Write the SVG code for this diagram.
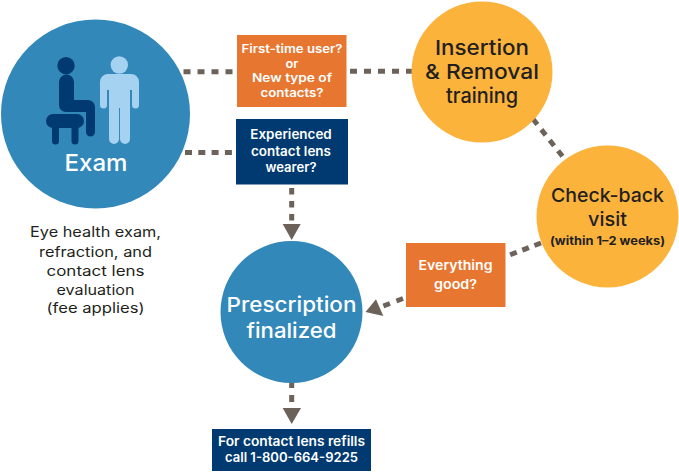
<svg xmlns="http://www.w3.org/2000/svg" width="679" height="472" viewBox="0 0 679 472">
<style>
text{font-family:"Inter","Liberation Sans",sans-serif;text-anchor:middle}
.box{font-size:13px;font-weight:600;fill:#fff}
.tight{font-size:11.800px}
.big{font-size:20.500px;font-weight:500;fill:#231f20}
.blue{font-size:20.500px;font-weight:500;fill:#fff}
.note{font-size:14px;fill:#231f20}
.dash{fill:none;stroke:#6d6259;stroke-width:5;stroke-dasharray:7 7}
.head{fill:#6d6259}
</style>
<rect width="679" height="472" fill="#fff"/>
<g id="connectors">
<path class="dash" d="M183.500 71.700H234"/>
<path class="dash" d="M350 71.300H412"/>
<path class="dash" d="M185 152.500H234" style="stroke-dasharray:7 6.300"/>
<path class="dash" d="M291.700 188V222" style="stroke-dasharray:6.500 6.500"/>
<path class="head" d="M282.700 224H300.700L291.700 240Z"/>
<path class="dash" d="M533 119L563 157" style="stroke-dasharray:7 6.500"/>
<path class="dash" d="M541 243L507 256" style="stroke-dasharray:7 6"/>
<path class="dash" d="M403 298.500L382 306.500"/>
<path class="head" d="M365.500 312L376 299.300 383.300 316Z"/>
<path class="dash" d="M291.700 381V403"/>
<path class="head" d="M282.700 408H301L291.700 424Z"/>
</g>
<g id="exam">
<circle cx="95.500" cy="114" r="94.500" fill="#3288b9"/>
<g fill="#003a70">
<circle cx="66" cy="65.700" r="8.700"/>
<path d="M59 82a7.500 7.500 0 0 1 15 0V100H88a7 7 0 0 1 7 7V132a4.500 4.500 0 0 1-9 0V112H66a7 7 0 0 1-7-7Z"/>
<rect x="46" y="114" width="38" height="14" rx="7"/>
<path d="M52 124h7v17a3.500 3.500 0 0 1-7 0ZM71.500 124h7v17a3.500 3.500 0 0 1-7 0Z"/>
</g>
<g fill="#a6d2f1">
<circle cx="119.300" cy="65" r="8.700"/>
<path d="M108 74H131a8 8 0 0 1 8 8V105a3.500 3.500 0 0 1-7 0V90H130V139a5 5 0 0 1-10 0V108H119V139a5 5 0 0 1-10 0V90H107V105a3.500 3.500 0 0 1-7 0V82a8 8 0 0 1 8-8Z"/>
</g>
<text x="96" y="171" textLength="63" lengthAdjust="spacingAndGlyphs" style="font-size:23px;font-weight:500;fill:#fff">Exam</text>
</g>
<g id="exam-note">
<text class="note" x="95.500" y="237" textLength="131" lengthAdjust="spacingAndGlyphs">Eye health exam,</text>
<text class="note" x="95.500" y="257" textLength="113" lengthAdjust="spacingAndGlyphs">refraction, and</text>
<text class="note" x="95.500" y="276" textLength="98" lengthAdjust="spacingAndGlyphs">contact lens</text>
<text class="note" x="95.500" y="295" textLength="78" lengthAdjust="spacingAndGlyphs">evaluation</text>
<text class="note" x="95.500" y="313" textLength="98" lengthAdjust="spacingAndGlyphs">(fee applies)</text>
</g>
<g id="first-time">
<rect x="237" y="35" width="109.500" height="72" fill="#e77631"/>
<text class="box tight" x="292" y="53" textLength="101" lengthAdjust="spacingAndGlyphs">First-time user?</text>
<text class="box tight" x="292" y="67.700" textLength="13" lengthAdjust="spacingAndGlyphs">or</text>
<text class="box tight" x="292" y="82.400" textLength="80" lengthAdjust="spacingAndGlyphs">New type of</text>
<text class="box tight" x="292" y="97" textLength="63" lengthAdjust="spacingAndGlyphs">contacts?</text>
</g>
<g id="experienced">
<rect x="236" y="119" width="112" height="65.500" fill="#003a70"/>
<text class="box" x="291" y="139" textLength="81.500" lengthAdjust="spacingAndGlyphs">Experienced</text>
<text class="box" x="291" y="156" textLength="80" lengthAdjust="spacingAndGlyphs">contact lens</text>
<text class="box" x="291" y="172" textLength="51" lengthAdjust="spacingAndGlyphs">wearer?</text>
</g>
<g id="insertion">
<circle cx="482" cy="72" r="70.500" fill="#fbb33c"/>
<text class="big" x="482" y="55" textLength="94" lengthAdjust="spacingAndGlyphs">Insertion</text>
<text class="big" x="482" y="79" textLength="114" lengthAdjust="spacingAndGlyphs">&amp; Removal</text>
<text class="big" x="482" y="103" textLength="72" lengthAdjust="spacingAndGlyphs">training</text>
</g>
<g id="check-back">
<circle cx="607.500" cy="216.500" r="71" fill="#fbb33c"/>
<text x="607.500" y="202" textLength="113" lengthAdjust="spacingAndGlyphs" style="font-size:19px;font-weight:500;fill:#231f20">Check-back</text>
<text x="607.500" y="226" textLength="39" lengthAdjust="spacingAndGlyphs" style="font-size:19px;font-weight:500;fill:#231f20">visit</text>
<text x="607.500" y="244.500" textLength="115" lengthAdjust="spacingAndGlyphs" style="font-size:12px;font-weight:700;fill:#231f20">(within 1–2 weeks)</text>
</g>
<g id="everything-good">
<rect x="406" y="243" width="99.500" height="64" fill="#e77631"/>
<text class="box" x="455.500" y="270" textLength="74" lengthAdjust="spacingAndGlyphs">Everything</text>
<text class="box" x="455.500" y="289" textLength="43" lengthAdjust="spacingAndGlyphs">good?</text>
</g>
<g id="prescription">
<circle cx="291.500" cy="312" r="71" fill="#3288b9"/>
<text class="blue" x="291.500" y="312" textLength="130" lengthAdjust="spacingAndGlyphs">Prescription</text>
<text class="blue" x="291.500" y="338" textLength="90" lengthAdjust="spacingAndGlyphs">finalized</text>
</g>
<g id="refills">
<rect x="212" y="429" width="159" height="42" fill="#003a70"/>
<text class="box" x="291.500" y="446" textLength="147" lengthAdjust="spacingAndGlyphs">For contact lens refills</text>
<text class="box" x="291.500" y="462" textLength="133" lengthAdjust="spacingAndGlyphs">call 1-800-664-9225</text>
</g>
</svg>
